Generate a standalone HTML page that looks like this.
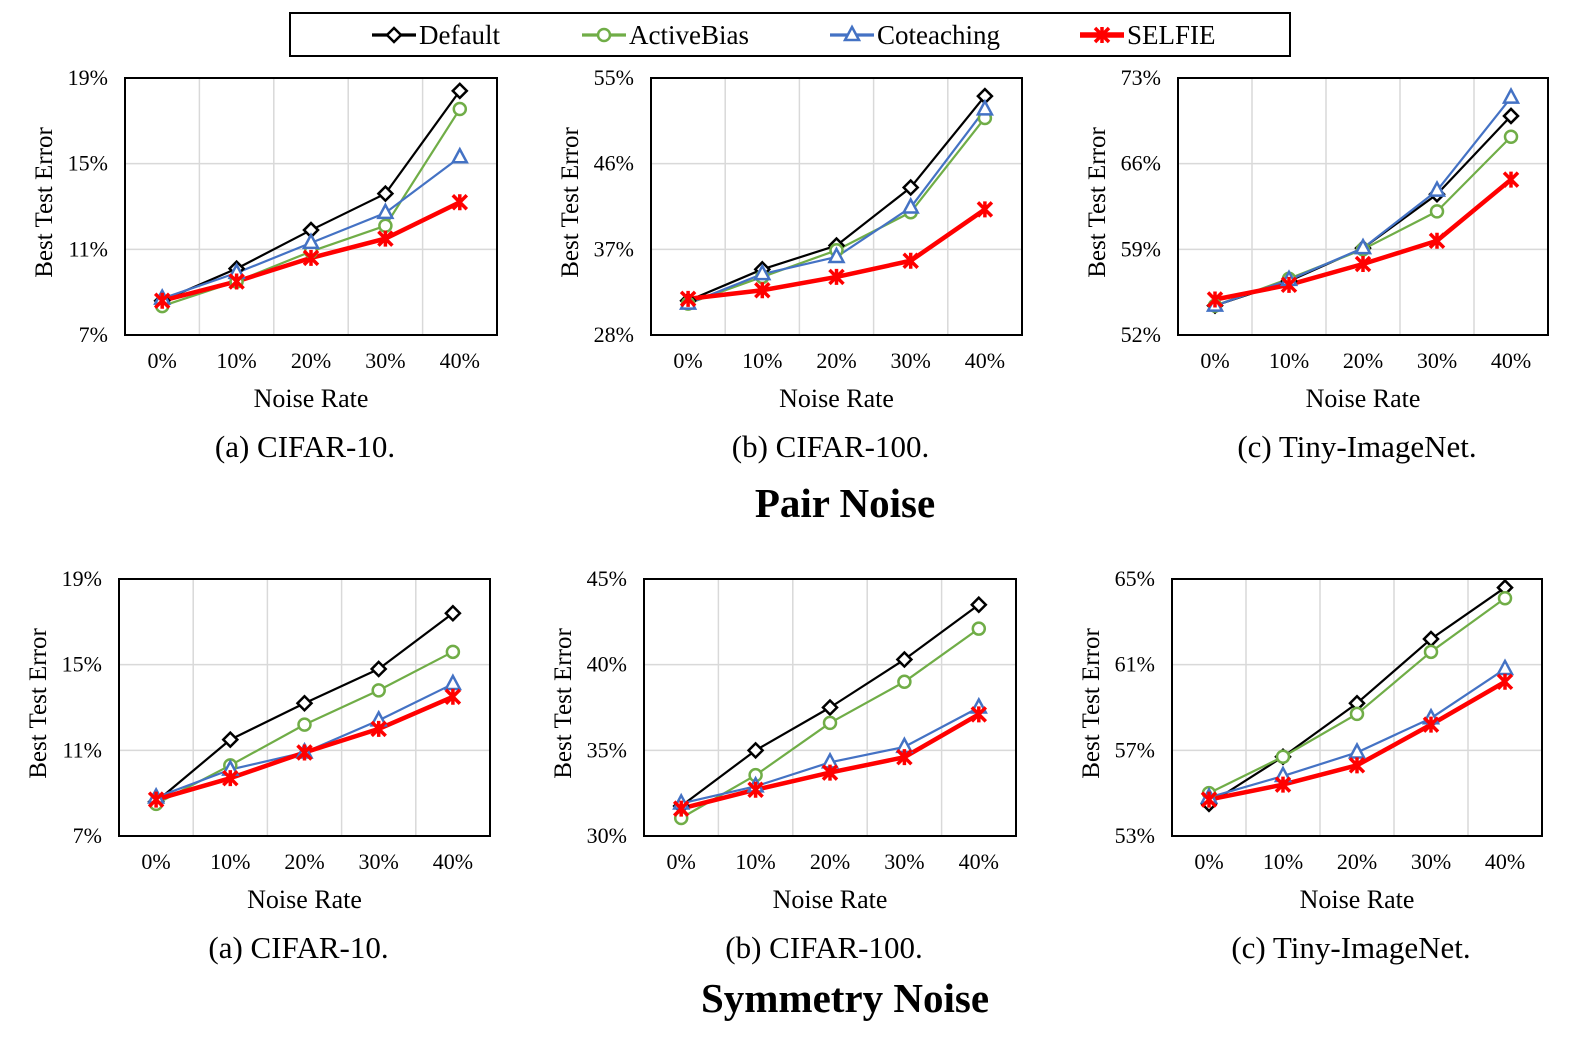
<!DOCTYPE html>
<html><head><meta charset="utf-8">
<style>
body{margin:0;background:#fff;}
svg{display:block;font-family:"Liberation Serif",serif;}
</style></head>
<body>
<svg id="fig" width="1580" height="1054" viewBox="0 0 1580 1054">
  <g>
    <rect x="290" y="13" width="1000" height="43" fill="#fff" stroke="#000" stroke-width="2"/>
    <g id="legend-items"></g>
  </g>
  <g id="plots"></g>
  <text x="845" y="517" text-anchor="middle" font-size="41" font-weight="bold">Pair Noise</text>
  <text x="845" y="1012" text-anchor="middle" font-size="41" font-weight="bold">Symmetry Noise</text>
</svg>
<script>
const categories = ["0%","10%","20%","30%","40%"];
const seriesNames = ["Default","ActiveBias","Coteaching","SELFIE"];
// Pair noise
const pairCifar10Default = [8.6,10.1,11.9,13.6,18.4];
const pairCifar10ActiveBias = [8.35,9.5,10.9,12.1,17.55];
const pairCifar10Coteaching = [8.7,9.9,11.3,12.7,15.3];
const pairCifar10Selfie = [8.6,9.5,10.6,11.5,13.2];
const pairCifar100Default = [31.6,34.9,37.4,43.5,53.1];
const pairCifar100ActiveBias = [31.3,34.1,36.9,40.9,50.8];
const pairCifar100Coteaching = [31.3,34.4,36.2,41.4,51.7];
const pairCifar100Selfie = [31.8,32.7,34.1,35.8,41.2];
const pairTinyDefault = [54.4,56.4,59.1,63.5,69.9];
const pairTinyActiveBias = [54.4,56.6,59.0,62.1,68.2];
const pairTinyCoteaching = [54.4,56.5,59.1,63.8,71.4];
const pairTinySelfie = [54.9,56.1,57.8,59.7,64.7];
// Symmetry noise
const symCifar10Default = [8.6,11.5,13.2,14.8,17.4];
const symCifar10ActiveBias = [8.5,10.3,12.2,13.8,15.6];
const symCifar10Coteaching = [8.8,10.1,10.9,12.4,14.1];
const symCifar10Selfie = [8.7,9.7,10.9,12.0,13.5];
const symCifar100Default = [31.75,35.0,37.5,40.3,43.5];
const symCifar100ActiveBias = [31.05,33.55,36.6,39.0,42.1];
const symCifar100Coteaching = [31.9,32.9,34.3,35.2,37.5];
const symCifar100Selfie = [31.6,32.7,33.7,34.6,37.1];
const symTinyDefault = [54.5,56.7,59.2,62.2,64.6];
const symTinyActiveBias = [55.0,56.7,58.7,61.6,64.1];
const symTinyCoteaching = [54.8,55.8,56.9,58.5,60.8];
const symTinySelfie = [54.7,55.4,56.3,58.2,60.2];
// Axis ticks
const ticksCifar10 = [7,11,15,19];
const ticksPairCifar100 = [28,37,46,55];
const ticksPairTiny = [52,59,66,73];
const ticksSymCifar100 = [30,35,40,45];
const ticksSymTiny = [53,57,61,65];
const titles = ["(a) CIFAR-10.","(b) CIFAR-100.","(c) Tiny-ImageNet."];

const NS="http://www.w3.org/2000/svg";
const colors=["#000000","#70ad47","#4472c4","#ff0000"];
const widths=[2.2,2.2,2.2,4.5];
function mk(tag,attrs,parent){const e=document.createElementNS(NS,tag);for(const k in attrs)e.setAttribute(k,attrs[k]);parent.appendChild(e);return e;}
function marker(i,x,y,g){
  let m;
  if(i===0){m=mk('path',{d:`M${x} ${y-7}L${x+7} ${y}L${x} ${y+7}L${x-7} ${y}Z`,fill:'#fff',stroke:colors[0],'stroke-width':2.5},g);}
  else if(i===1){m=mk('circle',{cx:x,cy:y,r:6,fill:'#fff',stroke:colors[1],'stroke-width':2.5},g);}
  else if(i===2){m=mk('path',{d:`M${x} ${y-8}L${x+7} ${y+5}L${x-7} ${y+5}Z`,fill:'#fff',stroke:colors[2],'stroke-width':2.5},g);}
  else {m=mk('path',{d:`M${x-7} ${y-7}L${x+7} ${y+7}M${x+7} ${y-7}L${x-7} ${y+7}M${x} ${y-8}L${x} ${y+8}`,fill:'none',stroke:colors[3],'stroke-width':3.5},g);}
  
  
}
const panels=[
 {x:125,y:78,w:372,h:257,ticks:ticksCifar10,s:[pairCifar10Default,pairCifar10ActiveBias,pairCifar10Coteaching,pairCifar10Selfie],t:0,name:'pair-cifar10'},
 {x:651,y:78,w:371,h:257,ticks:ticksPairCifar100,s:[pairCifar100Default,pairCifar100ActiveBias,pairCifar100Coteaching,pairCifar100Selfie],t:1,name:'pair-cifar100'},
 {x:1178,y:78,w:370,h:257,ticks:ticksPairTiny,s:[pairTinyDefault,pairTinyActiveBias,pairTinyCoteaching,pairTinySelfie],t:2,name:'pair-tiny'},
 {x:119,y:579,w:371,h:257,ticks:ticksCifar10,s:[symCifar10Default,symCifar10ActiveBias,symCifar10Coteaching,symCifar10Selfie],t:0,name:'sym-cifar10'},
 {x:644,y:579,w:372,h:257,ticks:ticksSymCifar100,s:[symCifar100Default,symCifar100ActiveBias,symCifar100Coteaching,symCifar100Selfie],t:1,name:'sym-cifar100'},
 {x:1172,y:579,w:370,h:257,ticks:ticksSymTiny,s:[symTinyDefault,symTinyActiveBias,symTinyCoteaching,symTinySelfie],t:2,name:'sym-tiny'}
];
const root=document.getElementById('plots');
panels.forEach(p=>{
  const g=mk('g',{},root);
  
  
  const lo=p.ticks[0],hi=p.ticks[p.ticks.length-1];
  const yS=v=>p.y+p.h-(v-lo)/(hi-lo)*p.h;
  const band=p.w/categories.length;
  const xS=i=>p.x+band*(i+0.5);
  for(let i=1;i<categories.length;i++){const l=mk('line',{x1:p.x+band*i,x2:p.x+band*i,y1:p.y,y2:p.y+p.h,stroke:'#d9d9d9','stroke-width':1.5},g);
    }
  p.ticks.forEach((t,i)=>{
    if(i>0&&i<p.ticks.length-1){const l=mk('line',{x1:p.x,x2:p.x+p.w,y1:yS(t),y2:yS(t),stroke:'#d9d9d9','stroke-width':1.5},g);
      }
    const tx=mk('text',{x:p.x-17,y:yS(t)+7,'text-anchor':'end','font-size':22},g);tx.textContent=t+'%';
    
  });
  const box=mk('rect',{x:p.x,y:p.y,width:p.w,height:p.h,fill:'none',stroke:'#000','stroke-width':2},g);
  
  categories.forEach((c,i)=>{const tx=mk('text',{x:xS(i),y:p.y+p.h+33,'text-anchor':'middle','font-size':22},g);tx.textContent=c;
    });
  const xt=mk('text',{x:p.x+p.w/2,y:p.y+p.h+72,'text-anchor':'middle','font-size':26},g);xt.textContent='Noise Rate';
  
  const yt=mk('text',{x:0,y:0,'text-anchor':'middle','font-size':25,transform:`translate(${p.x-73},${p.y+p.h/2-4}) rotate(-90)`},g);yt.textContent='Best Test Error';
  
  const tt=mk('text',{x:p.x+p.w/2-6,y:p.y+p.h+122,'text-anchor':'middle','font-size':31},g);tt.textContent=titles[p.t];
  
  p.s.forEach((vals,si)=>{
    const pts=vals.map((v,i)=>xS(i)+','+yS(v)).join(' ');
    const pl=mk('polyline',{points:pts,fill:'none',stroke:colors[si],'stroke-width':widths[si],'stroke-linejoin':'round'},g);
    
    
  });
  p.s.forEach((vals,si)=>vals.forEach((v,i)=>marker(si,xS(i),yS(v),g)));
});
const lg=document.getElementById('legend-items');
const lx=[372,582,830,1080];
seriesNames.forEach((n,i)=>{
  const g=mk('g',{},lg);
  
  
  mk('line',{x1:lx[i],x2:lx[i]+44,y1:35,y2:35,stroke:colors[i],'stroke-width':widths[i]+1},g);
  marker(i,lx[i]+22,35,g);
  const t=mk('text',{x:lx[i]+47,y:44,'font-size':27},g);t.textContent=n;
});
</script>
</body></html>
